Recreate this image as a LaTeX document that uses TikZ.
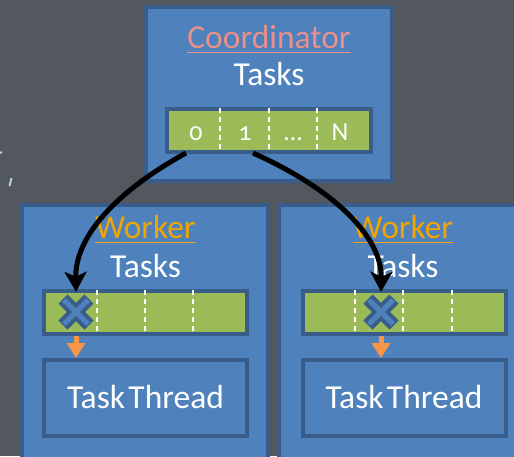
\documentclass[tikz,border=0pt]{standalone}
\usepackage{fontspec}
\setmainfont{Carlito}[Numbers=OldStyle]
\usetikzlibrary{arrows.meta}
\definecolor{bg}{HTML}{53575E}
\definecolor{boxblue}{HTML}{4F81BD}
\definecolor{edgeblue}{HTML}{385D8A}
\definecolor{bargreen}{HTML}{9BBB59}
\definecolor{salmon}{HTML}{E8918C}
\definecolor{gold}{HTML}{F0A500}
\definecolor{accent}{HTML}{F79646}
\definecolor{faint}{HTML}{B8CCE4}
\begin{document}
\begin{tikzpicture}[x=1pt,y=-1pt,
  panel/.style={rectangle, fill=boxblue, draw=edgeblue, line width=4pt, inner sep=0pt},
  bar/.style={rectangle, fill=bargreen, draw=edgeblue, line width=4pt, inner sep=0pt,
    minimum width=203pt, minimum height=43pt},
  label/.style={inner sep=0pt, anchor=base, text=white, font=\fontsize{33.5}{40}\selectfont},
  digit/.style={inner sep=0pt, anchor=base, text=white, font=\fontsize{26}{30}\selectfont},
  divider/.style={white, line width=1.5pt, dash pattern=on 5pt off 4pt},
  slot/.style={minimum size=36pt, inner sep=0pt},
  xmark/.pic={
    \draw[edgeblue, line width=13pt] (-13,-13) -- (13,13) (-13,13) -- (13,-13);
    \draw[boxblue, line width=5pt] (-12,-12) -- (12,12) (-12,12) -- (12,-12);
  },
  send/.style={black, line width=5pt, -{Stealth[length=20pt,width=22pt,inset=5pt]}},
  feed/.style={accent, line width=5pt, -{Triangle[length=15pt,width=18pt]}}
]
\fill[bg] (0,0) rectangle (514,456);
\useasboundingbox (0,0) rectangle (514,456);
\clip (0,0) rectangle (514,456);

% stray marks at the left edge
\draw[faint, line width=2pt] (9.5,186) -- (11.5,178);
\draw[faint, line width=2pt] (0,153) -- (2,152);

% coordinator
\node[panel, minimum width=246pt, minimum height=174pt] (coord) at (269,94) {};
\node[label, text=salmon] (ctitle) at (269,48) {Coordinator};
\draw[salmon, line width=1.6pt] ([yshift=-4.5pt]ctitle.base west) -- ([yshift=-4.5pt]ctitle.base east);
\node[label] (ctasks) at (269,85) {Tasks};
\node[bar, minimum width=204pt] (cbar) at (269,130.5) {};
\foreach \x in {220,269,317} \draw[divider] (\x,108) -- (\x,152);
\node[digit] (d0) at (196,140) {0};
\node[digit] (d1) at (245,140) {1};
\node[digit] (dd) at (293,140) {…};
\node[digit] (dn) at (340,140) {N};

% left worker
\node[panel, minimum width=246pt, minimum height=280pt] (w1) at (145,345) {};
\node[label, text=gold] (w1title) at (145.5,238) {Worker};
\draw[gold, line width=1.6pt] ([yshift=-4.5pt]w1title.base west) -- ([yshift=-4.5pt]w1title.base east);
\node[label] (w1tasks) at (145.5,277) {Tasks};
\node[bar] (wbar1) at (145.5,312.5) {};
\foreach \x in {97,145,193} \draw[divider] (\x,290) -- (\x,334);
\node[panel, minimum width=203pt, minimum height=76pt] (thread1) at (145.5,398) {};
\node[label] at (145.5,408) {Task\hspace{0.1em}Thread};
\node[slot] (x1) at (76,312) {};
\pic at (x1) {xmark};
\draw[feed] (wbar1.south -| x1) -- (thread1.north -| x1);

% right worker
\node[panel, minimum width=250pt, minimum height=280pt] (w2) at (404,345) {};
\node[label, text=gold] (w2title) at (403,238) {Worker};
\draw[gold, line width=1.6pt] ([yshift=-4.5pt]w2title.base west) -- ([yshift=-4.5pt]w2title.base east);
\node[label] (w2tasks) at (403,277) {Tasks};
\node[bar] (wbar2) at (404,312.5) {};
\foreach \x in {355,403,452} \draw[divider] (\x,290) -- (\x,334);
\node[panel, minimum width=203pt, minimum height=76pt] (thread2) at (404,398) {};
\node[label] at (404,408) {Task\hspace{0.1em}Thread};
\node[slot] (x2) at (381,312) {};
\pic at (x2) {xmark};
\draw[feed] (wbar2.south -| x2) -- (thread2.north -| x2);

% task hand-off from coordinator to workers
\coordinate (s1) at ([xshift=-83pt,yshift=1pt]cbar.south);
\coordinate (s2) at ([xshift=-16pt,yshift=1pt]cbar.south);
\draw[send] (s1) .. controls (110,195) and (75,240) .. ([yshift=2pt]x1.north);
\draw[send] (s2) .. controls (340,192) and (382,240) .. ([yshift=2pt]x2.north);
\end{tikzpicture}
\end{document}
